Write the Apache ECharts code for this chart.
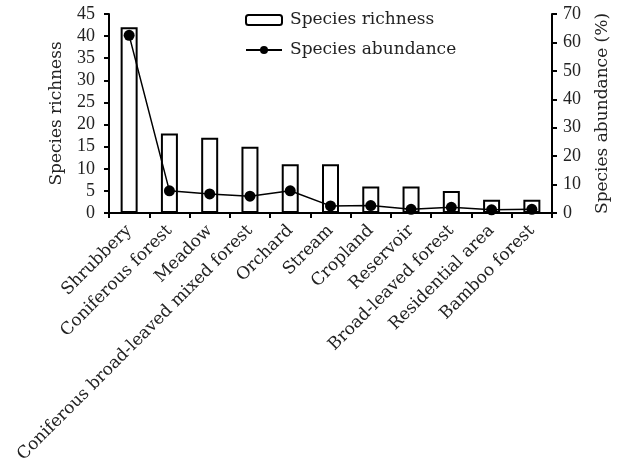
<!DOCTYPE html>
<html>
<head>
<meta charset="utf-8">
<script src="https://cdn.jsdelivr.net/npm/echarts@6/dist/echarts.min.js"></script>
<style>html,body{margin:0;padding:0;background:#fff}#c{width:622px;height:466px}</style>
</head>
<body>
<div id="c"></div>
<script>
var categories = ["Shrubbery", "Coniferous forest", "Meadow", "Coniferous broad-leaved mixed forest", "Orchard", "Stream", "Cropland", "Reservoir", "Broad-leaved forest", "Residential area", "Bamboo forest"];
var richness = [42, 18, 17, 15, 11, 11, 6, 6, 5, 3, 3];
var abundance = [62.5, 7.8, 6.7, 5.9, 7.8, 2.5, 2.6, 1.3, 2.0, 1.1, 1.3];

var TXT = 'DejaVu Serif';
var NUM = 'Liberation Serif';
var chart = echarts.init(document.getElementById('c'), null, {renderer: 'canvas'});
chart.setOption({
  animation: false,
  backgroundColor: '#fff',
  legend: {
    left: 240, top: 5, orient: 'vertical',
    itemWidth: 36, itemHeight: 10, itemGap: 10,
    textStyle: {fontFamily: TXT, fontSize: 17, color: '#222', lineHeight: 20, padding: [0,0,0,3]},
    data: ['Species richness', {name: 'Species abundance', itemStyle: {color: '#000'}}]
  },
  grid: {left: 109, right: 70, top: 14, bottom: 253, containLabel: false},
  xAxis: {
    type: 'category', data: categories, boundaryGap: true,
    axisLine: {lineStyle: {color: '#000', width: 2}},
    axisTick: {show: true, length: 5, inside: false, alignWithLabel: false, lineStyle: {color: '#000', width: 2}},
    axisLabel: {interval: 0, rotate: 45, margin: 15, fontFamily: TXT, fontSize: 17, color: '#222'}
  },
  yAxis: [{
    type: 'value', min: 0, max: 45, interval: 5,
    name: 'Species richness', nameLocation: 'middle', nameGap: 44, nameRotate: 90,
    nameTextStyle: {fontFamily: TXT, fontSize: 17, color: '#222'},
    axisLine: {show: true, lineStyle: {color: '#000', width: 2}},
    axisTick: {show: true, length: 5, lineStyle: {color: '#000', width: 2}},
    axisLabel: {margin: 14, fontFamily: NUM, fontSize: 18, color: '#222'},
    splitLine: {show: false}
  }, {
    type: 'value', min: 0, max: 70, interval: 10, position: 'right',
    name: 'Species abundance (%)', nameLocation: 'middle', nameGap: 42, nameRotate: 90,
    nameTextStyle: {fontFamily: TXT, fontSize: 17, color: '#222'},
    axisLine: {show: true, lineStyle: {color: '#000', width: 2}},
    axisTick: {show: true, length: 5, lineStyle: {color: '#000', width: 2}},
    axisLabel: {margin: 11, fontFamily: NUM, fontSize: 18, color: '#222'},
    splitLine: {show: false}
  }],
  series: [{
    name: 'Species richness', type: 'bar', yAxisIndex: 0, data: richness,
    barWidth: 17,
    itemStyle: {color: '#fff', borderColor: '#000', borderWidth: 2}
  }, {
    name: 'Species abundance', type: 'line', yAxisIndex: 1, data: abundance,
    symbol: 'circle', symbolSize: 11, z: 5,
    lineStyle: {color: '#000', width: 1.5},
    itemStyle: {color: '#000'}
  }]
});
</script>
</body>
</html>
